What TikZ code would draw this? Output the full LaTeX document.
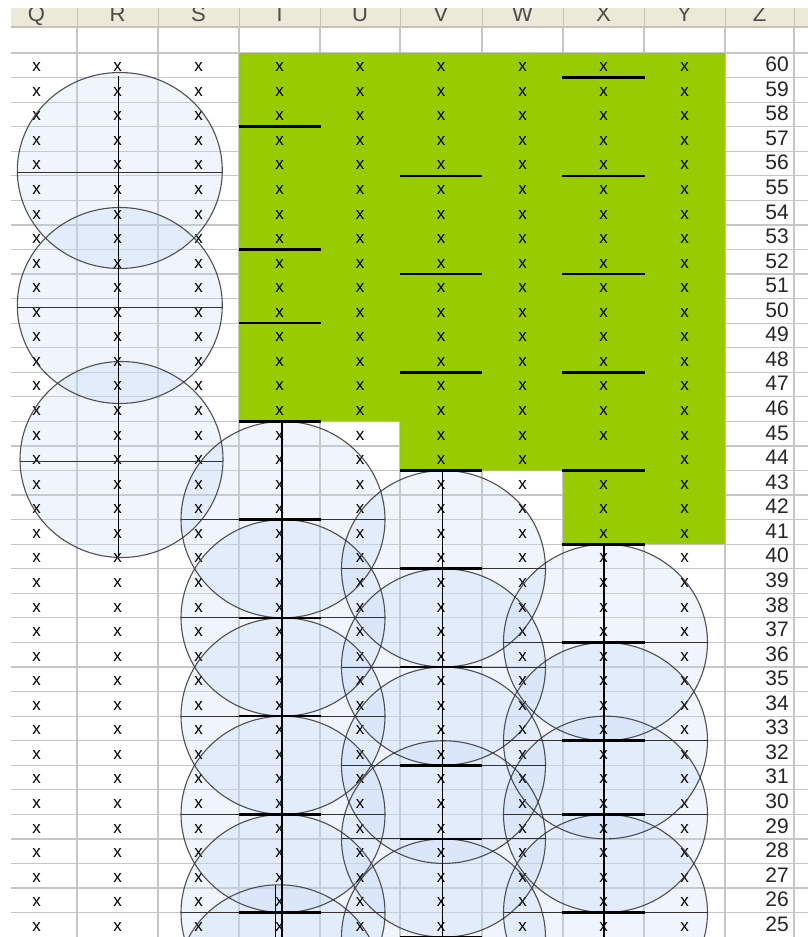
\documentclass[tikz,border=0pt]{standalone}
\usepackage{fontspec}
\setmainfont{Liberation Sans}
\definecolor{hdr}{HTML}{ECE9D8}
\definecolor{hdrline}{HTML}{C5C2B2}
\definecolor{gridc}{HTML}{C6C6C6}
\definecolor{lime}{HTML}{99CC00}
\definecolor{cfill}{RGB}{196,218,248}
\definecolor{cline}{HTML}{333333}
\begin{document}
\begin{tikzpicture}[x=1pt,y=-1pt,
  gridln/.style={draw=gridc,line width=1.2pt},
  thickb/.style={line width=2.6pt,black},
  diam/.style={line width=1pt,cline},
  vline/.style={line width=1.6pt,black},
  cfillst/.style={fill=cfill,fill opacity=0.27},
  cdraw/.style={draw=cline,draw opacity=0.85,line width=1.1pt},
  xt/.style={font=\fontsize{17}{17}\selectfont,inner sep=0pt,anchor=base,text=black},
  num/.style={font=\fontsize{21}{21}\selectfont,inner sep=0pt,anchor=base east,text=black!85},
  hd/.style={font=\fontsize{22}{22}\selectfont,inner sep=0pt,anchor=base,text=black!70}]
\def\rh{24.56}
\useasboundingbox (0,0) rectangle (808,937);
\clip (0,0) rectangle (808,937);
\fill[white] (0,0) rectangle (808,937);
% header
\fill[hdr] (11,8) rectangle (808,27);
\begin{scope}
  \clip (11,8) rectangle (808,27);
  \foreach \c/\xx in {Q/36.5,R/117.5,S/198.5,T/279.5,U/360,V/441,W/522.5,X/603.5,Y/684.5,Z/759.5}
    \node[hd] (h\c) at (\xx,21) {\c};
\end{scope}
\foreach \xx in {77,158,239,320,400,482,563,644,725,794}
  \draw[hdrline,line width=1pt] (\xx,8) -- (\xx,27);
\draw[hdrline,line width=1.2pt] (11,27) -- (808,27);
% grid
\foreach \xx in {77,158,239,320,400,482,563,644,725,794}
  \draw[gridln] (\xx,27) -- (\xx,937);
\foreach \j in {0,...,36}
  \draw[gridln] (11,53+\j*\rh) -- (808,53+\j*\rh);
% green area
\fill[lime] (239,53) -- (725,53) -- (725,53+20*\rh) -- (563,53+20*\rh) -- (563,53+17*\rh)
  -- (400,53+17*\rh) -- (400,53+15*\rh) -- (239,53+15*\rh) -- cycle;
% circle fills
\path[cfillst] (119.8,170.5) ellipse [x radius=102.5pt,y radius=98pt];
\path[cfillst] (119.8,305.5) ellipse [x radius=102.5pt,y radius=98pt];
\path[cfillst] (121.5,459.5) ellipse [x radius=101.5pt,y radius=98pt];
\foreach \j in {19,23,27,31,35}
  \path[cfillst] (283,53+\j*\rh) ellipse [x radius=102pt,y radius=98.2pt];
\path[cfillst] (279,983) ellipse [x radius=102pt,y radius=98.2pt];
\foreach \j in {21,25,29,32,36}
  \path[cfillst] (443.5,53+\j*\rh) ellipse [x radius=102pt,y radius=98.2pt];
\foreach \j in {24,28,31,35}
  \path[cfillst] (605.5,53+\j*\rh) ellipse [x radius=102pt,y radius=98.2pt];
% cell texts
\foreach \r in {60,59,...,25} {
  \pgfmathsetmacro\yb{53+(60-\r)*\rh+18.7}
  \foreach \ci/\c/\xx in {1/Q/36.5,2/R/117.5,3/S/198.5,4/T/279.5,5/U/360,6/V/441,7/W/522.5,8/X/603.5,9/Y/684.5} {
    \ifnum\r=44 \ifnum\ci=8 \else \node[xt] (x\c\r) at (\xx,\yb) {x}; \fi
    \else \node[xt] (x\c\r) at (\xx,\yb) {x}; \fi
  }
  \node[num] (n\r) at (789,\yb) {\r};
}
% circle outlines
\path[cdraw] (119.8,170.5) ellipse [x radius=102.5pt,y radius=98pt];
\path[cdraw] (119.8,305.5) ellipse [x radius=102.5pt,y radius=98pt];
\path[cdraw] (121.5,459.5) ellipse [x radius=101.5pt,y radius=98pt];
\foreach \j in {19,23,27,31,35}
  \path[cdraw] (283,53+\j*\rh) ellipse [x radius=102pt,y radius=98.2pt];
\path[cdraw] (279,983) ellipse [x radius=102pt,y radius=98.2pt];
\foreach \j in {21,25,29,32,36}
  \path[cdraw] (443.5,53+\j*\rh) ellipse [x radius=102pt,y radius=98.2pt];
\foreach \j in {24,28,31,35}
  \path[cdraw] (605.5,53+\j*\rh) ellipse [x radius=102pt,y radius=98.2pt];
% diameter lines
\draw[diam] (17,172.3) -- (222.3,172.3);
\draw[diam] (17,307.3) -- (222.3,307.3);
\draw[diam] (20,461) -- (223,461);
\foreach \j in {19,23,27,31,35}
  \draw[diam] (181,53+\j*\rh) -- (385,53+\j*\rh);
\foreach \j in {21,25,29,32,36}
  \draw[diam] (341.5,53+\j*\rh) -- (545.5,53+\j*\rh);
\foreach \j in {24,28,31,35}
  \draw[diam] (503.5,53+\j*\rh) -- (707.5,53+\j*\rh);
% thick cell borders
\foreach \j in {3,8,11,15,19,23,27,31,35}
  \draw[thickb] (239,53+\j*\rh) -- (320.5,53+\j*\rh);
\foreach \j in {5,9,13,17,21,25,29,32,36}
  \draw[thickb] (400,53+\j*\rh) -- (482,53+\j*\rh);
\foreach \j in {1,5,9,13,17,20,24,28,31,35}
  \draw[thickb] (562,53+\j*\rh) -- (645,53+\j*\rh);
% vertical lines
\coordinate (rtop) at (118.5,76);
\coordinate (rbot) at (118.5,556);
\draw[vline,line width=1.9pt] (rtop) -- (rbot);
\coordinate (ttop) at (282,53+15*\rh);
\coordinate (tbot) at (282,937);
\draw[vline] (ttop) -- (tbot);
\coordinate (t6top) at (275,885);
\coordinate (t6bot) at (275,937);
\draw[vline,line width=1pt] (t6top) -- (t6bot);
\coordinate (vtop) at (442.5,53+17*\rh);
\coordinate (vbot) at (442.5,937);
\draw[vline] (vtop) -- (vbot);
\coordinate (xtop) at (604,53+20*\rh);
\coordinate (xbot) at (604,937);
\draw[vline] (xtop) -- (xbot);
\end{tikzpicture}
\end{document}
